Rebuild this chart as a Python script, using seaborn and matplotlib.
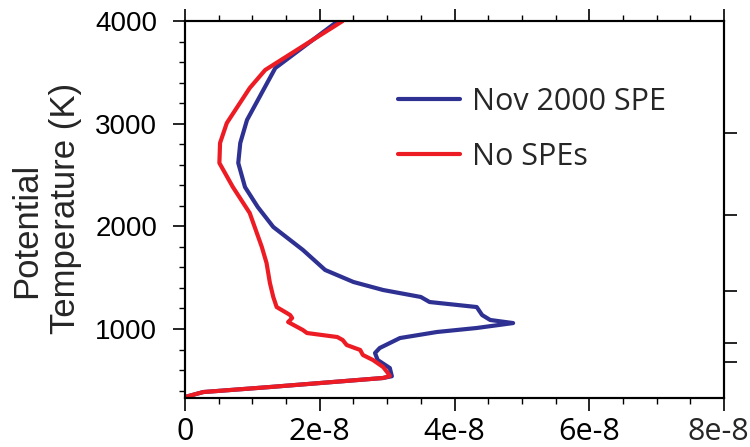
import matplotlib
matplotlib.use("Agg")
import matplotlib.pyplot as plt
import seaborn as sns
import pandas as pd

sns.set_theme(style="ticks")
plt.rcParams['font.family'] = ['Liberation Sans', 'DejaVu Sans']

# ---- data (values in units of 1e-8) ----
spe_theta = [4000, 3542, 3036, 2812, 2617, 2383, 2188, 1994, 1770, 1575, 1458,
             1380, 1312, 1263, 1214, 1136, 1088, 1058, 1010, 971, 912, 815,
             766, 698, 620, 540, 523, 435, 386, 338]
spe_value = [2.27, 1.34, 0.92, 0.82, 0.79, 0.89, 1.08, 1.31, 1.75, 2.08, 2.50,
             2.94, 3.50, 3.63, 4.33, 4.41, 4.53, 4.87, 4.33, 3.74, 3.19, 2.89,
             2.82, 2.86, 3.04, 3.07, 2.94, 1.26, 0.27, 0.00]

nospe_theta = [4000, 3523, 3347, 3006, 2812, 2617, 2383, 2130, 1799, 1643, 1448,
               1312, 1214, 1156, 1136, 1107, 1068, 990, 961, 922, 893, 844, 796,
               747, 698, 630, 581, 542, 523, 435, 386, 338]
nospe_value = [2.34, 1.19, 0.96, 0.62, 0.52, 0.51, 0.71, 0.96, 1.14, 1.21, 1.26,
               1.31, 1.36, 1.51, 1.56, 1.59, 1.53, 1.75, 1.81, 2.26, 2.34, 2.40,
               2.60, 2.64, 2.79, 2.94, 3.00, 3.04, 2.94, 1.26, 0.27, 0.00]

series_labels = ["Nov 2000 SPE", "No SPEs"]
series_colors = ["#2E3192", "#ED1C24"]

x_ticks = [0, 2e-8, 4e-8, 6e-8, 8e-8]
x_ticklabels = ["0", "2e-8", "4e-8", "6e-8", "8e-8"]
y_ticks = [1000, 2000, 3000, 4000]
right_ticks = [2906, 2110, 1370, 861, 682]

df_spe = pd.DataFrame({"theta": spe_theta, "value": [v * 1e-8 for v in spe_value]})
df_no = pd.DataFrame({"theta": nospe_theta, "value": [v * 1e-8 for v in nospe_value]})

fig = plt.figure(figsize=(7.5, 4.47), dpi=100)
ax = fig.add_subplot(111)
fig.subplots_adjust(left=0.2467, right=0.9653, bottom=0.1096, top=0.953)

sns.lineplot(data=df_spe, x="value", y="theta", sort=False, estimator=None,
             color=series_colors[0], lw=3, label=series_labels[0], ax=ax)
sns.lineplot(data=df_no, x="value", y="theta", sort=False, estimator=None,
             color=series_colors[1], lw=3, label=series_labels[1], ax=ax)

ax.set_xlim(0, 8e-8)
ax.set_ylim(328, 4000)
ax.set_xticks(x_ticks)
# last label is drawn separately (right-aligned to the figure edge, as in the reference)
ax.set_xticklabels(x_ticklabels[:-1] + [""], fontfamily="Open Sans", fontsize=22)
ax.set_xticks([i * 0.5e-8 for i in range(17)], minor=True)
ax.set_yticks(y_ticks)
ax.set_yticklabels([str(t) for t in y_ticks], fontsize=20)
ax.set_yticks(list(range(400, 4001, 200)), minor=True)
ax.set_xlabel("")
ax.set_ylabel("")

for s in ax.spines.values():
    s.set_linewidth(1.5)
    s.set_color("black")

ax.tick_params(axis="both", which="major", direction="out", length=9, width=1.2,
               colors="black", top=True, right=False)
ax.tick_params(axis="both", which="minor", direction="out", length=4.5, width=1.0,
               colors="black", top=True, right=False)
ax.tick_params(axis="y", which="major", pad=11)
ax.tick_params(axis="x", which="major", pad=5)
ax.tick_params(axis="x", which="both", labeltop=False)

fig.text(749 / 750, 1 - 417.5 / 447, x_ticklabels[-1], fontfamily="Open Sans",
         fontsize=22, ha="right", va="top")

ax2 = ax.twinx()
ax2.set_ylim(ax.get_ylim())
ax2.set_yticks(right_ticks)
ax2.set_yticklabels([])
ax2.tick_params(axis="y", direction="out", length=9, width=1.2, colors="black")
for s in ax2.spines.values():
    s.set_linewidth(1.5)
    s.set_color("black")

fig.text(65 / 750, 1 - 208 / 447, "Temperature (K)", fontsize=25, rotation=90,
         ha="center", va="center")
fig.text(27 / 750, 1 - 230 / 447, "Potential", fontsize=25, rotation=90,
         ha="center", va="center")

leg = ax.legend(loc="upper left", bbox_to_anchor=(0.396, 0.826), frameon=False,
                prop={"family": "Open Sans", "size": 22}, handlelength=2.0,
                handletextpad=0.4, labelspacing=0.83, borderpad=0, borderaxespad=0)
for line in leg.get_lines():
    line.set_linewidth(3)

fig.savefig("out.png", dpi=100)
